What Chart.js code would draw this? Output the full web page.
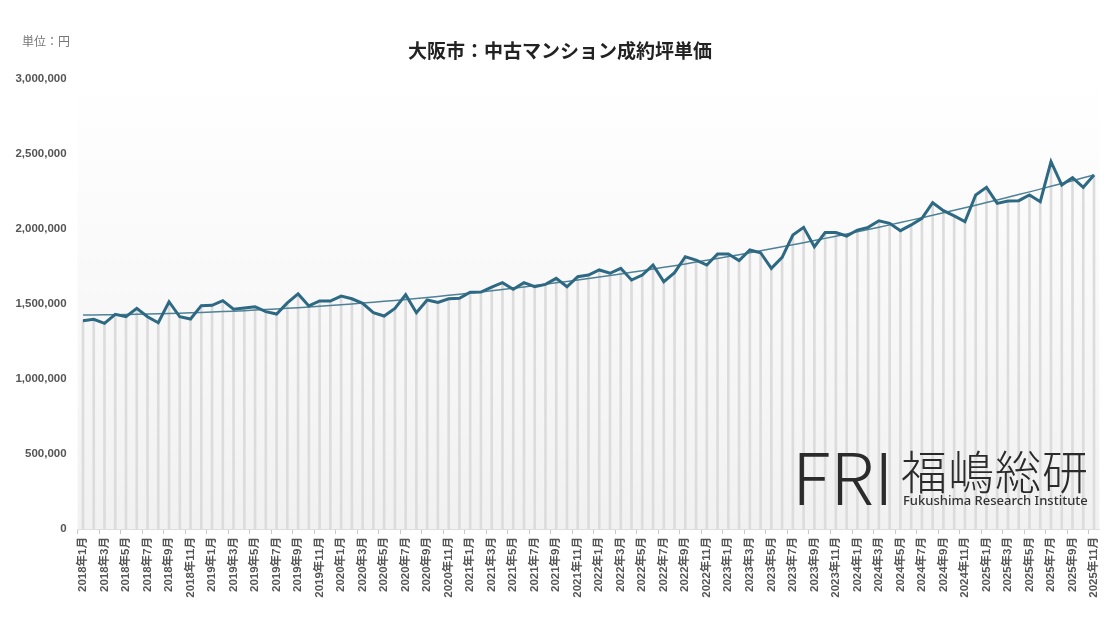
<!DOCTYPE html>
<html lang="ja">
<head>
<meta charset="utf-8">
<title>大阪市：中古マンション成約坪単価</title>
<script src="https://cdn.jsdelivr.net/npm/chart.js@4.4.1/dist/chart.umd.min.js"></script>
<style>
  html, body { margin: 0; padding: 0; background: #fff; }
  #wrap { position: relative; width: 1120px; height: 630px; overflow: hidden;
          font-family: "Noto Sans CJK JP", "Liberation Sans", sans-serif; }
  #chart { position: absolute; left: 0; top: 0; }
  .title { position: absolute; left: 0; top: 36px; width: 1120px; text-align: center;
           font-size: 19px; font-weight: bold; color: #222; }
  .unit { position: absolute; left: 22px; top: 32px; font-size: 12px; color: #777; }
  .logo-fri { position: absolute; left: 792px; top: 438px; font-size: 72px; font-weight: 200;
              color: #2b2b2b; letter-spacing: 0px; line-height: 1; font-family: "Noto Sans CJK JP", sans-serif; }
  .logo-jp { position: absolute; left: 901px; top: 446px; font-size: 46px; font-weight: 300;
             color: #2b2b2b; line-height: 1; letter-spacing: 1px; }
  .logo-en { position: absolute; left: 903px; top: 494px; font-size: 13px; font-weight: 500;
             color: #333; line-height: 1; font-family: "Noto Sans", sans-serif; }
</style>
</head>
<body>
<div id="wrap">
  <canvas id="chart" width="1120" height="630"></canvas>
  <div class="title">大阪市：中古マンション成約坪単価</div>
  <div class="unit">単位：円</div>
  <div class="logo-fri">FRI</div>
  <div class="logo-jp">福嶋総研</div>
  <div class="logo-en">Fukushima Research Institute</div>
</div>
<script>
// 期間: 2018年1月〜2025年11月（月次）
const startYear = 2018;
const monthCount = 95;
const months = [];
for (let i = 0; i < monthCount; i++) {
  const y = startYear + Math.floor(i / 12);
  const m = (i % 12) + 1;
  months.push(y + "年" + m + "月");
}

// 成約坪単価（円）
const prices = [
  1389000, 1398000, 1371000, 1431000, 1415000, 1471000, 1415000, 1375000, 1515000, 1415000, 1400000, 1489000,
  1491000, 1522000, 1465000, 1473000, 1482000, 1449000, 1433000, 1507000, 1567000, 1487000, 1520000, 1520000,
  1553000, 1535000, 1505000, 1442000, 1420000, 1471000, 1562000, 1442000, 1527000, 1511000, 1535000, 1538000,
  1578000, 1580000, 1613000, 1642000, 1598000, 1642000, 1615000, 1631000, 1671000, 1615000, 1682000, 1693000,
  1727000, 1705000, 1738000, 1660000, 1693000, 1760000, 1649000, 1709000, 1815000, 1793000, 1760000, 1833000,
  1833000, 1789000, 1860000, 1842000, 1738000, 1811000, 1960000, 2011000, 1882000, 1976000, 1976000, 1953000,
  1993000, 2011000, 2055000, 2038000, 1989000, 2027000, 2071000, 2175000, 2122000, 2087000, 2049000, 2227000,
  2278000, 2171000, 2187000, 2189000, 2227000, 2182000, 2449000, 2293000, 2342000, 2278000, 2360000
];

// 目盛
const yMin = 0;
const yMax = 3000000;
const yStep = 500000;

// 近似曲線（2次の最小二乗）
const quadFit = (ys) => {
  let s = [0, 0, 0, 0, 0], t = [0, 0, 0];
  ys.forEach((y, x) => {
    for (let k = 0; k < 5; k++) s[k] += Math.pow(x, k);
    for (let k = 0; k < 3; k++) t[k] += y * Math.pow(x, k);
  });
  const A = [[s[0], s[1], s[2], t[0]], [s[1], s[2], s[3], t[1]], [s[2], s[3], s[4], t[2]]];
  for (let i = 0; i < 3; i++) {
    for (let j = i + 1; j < 3; j++) {
      const f = A[j][i] / A[i][i];
      for (let k = i; k < 4; k++) A[j][k] -= f * A[i][k];
    }
  }
  const c = [0, 0, 0];
  for (let i = 2; i >= 0; i--) {
    let v = A[i][3];
    for (let k = i + 1; k < 3; k++) v -= A[i][k] * c[k];
    c[i] = v / A[i][i];
  }
  return ys.map((_, x) => c[0] + c[1] * x + c[2] * x * x);
};
const trend = quadFit(prices);

// 背景のグラデーション
const areaBg = {
  id: "areaBg",
  beforeDatasetsDraw(chart) {
    const { ctx, chartArea: a } = chart;
    const g = ctx.createLinearGradient(0, a.top, 0, a.bottom);
    g.addColorStop(0, "#ffffff");
    g.addColorStop(1, "#f1f1f1");
    ctx.save();
    ctx.fillStyle = g;
    ctx.fillRect(a.left, a.top, a.right - a.left, a.bottom - a.top);
    ctx.restore();
  }
};

const tickFont = { family: "'Liberation Sans', 'Noto Sans CJK JP', sans-serif", size: 11.5, weight: "bold" };

new Chart(document.getElementById("chart"), {
  type: "bar",
  data: {
    labels: months,
    datasets: [
      {
        type: "line",
        label: "成約坪単価",
        data: prices,
        borderColor: "#2d6983",
        borderWidth: 3,
        pointRadius: 0,
        tension: 0,
        order: 0
      },
      {
        type: "line",
        label: "近似曲線",
        data: trend,
        borderColor: "#4f8296",
        borderWidth: 1.5,
        pointRadius: 0,
        order: 1
      },
      {
        type: "bar",
        label: "bar",
        data: prices,
        backgroundColor: "#dcdcdc",
        barThickness: 2,
        order: 2
      }
    ]
  },
  options: {
    responsive: false,
    animation: false,
    layout: { padding: { left: 0, top: 79, right: 20.6, bottom: 0 } },
    plugins: { legend: { display: false }, tooltip: { enabled: false } },
    scales: {
      x: {
        offset: true,
        grid: {
          display: true,
          drawOnChartArea: false,
          tickLength: 5,
          color: (c) => (c.index % 2 === 0 ? "#c8c8c8" : "rgba(0,0,0,0)")
        },
        border: { color: "#dddddd" },
        ticks: {
          autoSkip: false,
          maxRotation: 90,
          minRotation: 90,
          padding: 3,
          color: "#555",
          font: tickFont,
          callback: (v, i) => (i % 2 === 0 ? months[i] : "")
        },
        afterFit: (s) => { s.height = 101; }
      },
      y: {
        min: yMin,
        max: yMax,
        grid: { display: false, drawTicks: false },
        border: { display: false },
        ticks: {
          stepSize: yStep,
          padding: 11,
          color: "#555",
          font: { family: "'Liberation Sans', sans-serif", size: 11.5, weight: "bold" },
          callback: (v) => v.toLocaleString("en-US")
        },
        afterFit: (s) => { s.width = 77.6; }
      }
    }
  },
  plugins: [areaBg]
});
</script>
</body>
</html>
